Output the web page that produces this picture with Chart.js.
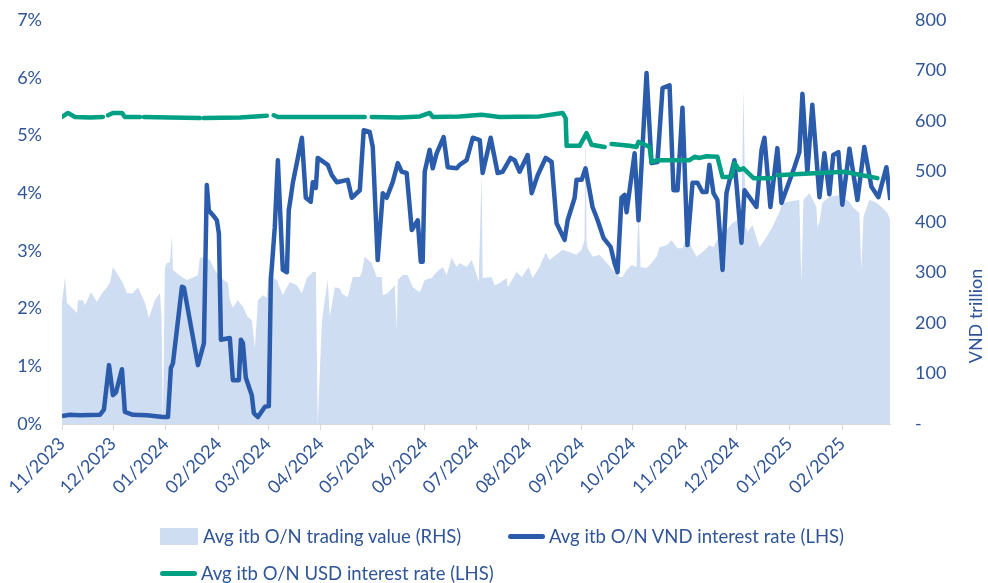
<!DOCTYPE html>
<html>
<head>
<meta charset="utf-8">
<script src="https://cdn.jsdelivr.net/npm/chart.js@4.4.1/dist/chart.umd.min.js"></script>
<style>
  body { margin:0; background:#fff; font-family:Lato, "Open Sans", sans-serif; }
  #wrap { position:relative; width:988px; height:583px; overflow:hidden; }
  #chart { position:absolute; left:0; top:0; }
  .lg { position:absolute; display:flex; align-items:center; font-size:18.5px; color:#2F5597; white-space:nowrap; }
  .lg .box { width:38px; height:17px; background:#CFDDF2; margin-right:5px; }
  .lg .ln { width:37px; height:5px; border-radius:3px; margin-right:4px; }
</style>
</head>
<body>
<div id="wrap">
  <canvas id="chart" width="988" height="583"></canvas>
  <div class="lg" style="left:160px; top:525px;"><span class="box"></span>Avg itb O/N trading value (RHS)</div>
  <div class="lg" style="left:508px; top:525px;"><span class="ln" style="background:#2B5CAB"></span>Avg itb O/N VND interest rate (LHS)</div>
  <div class="lg" style="left:160px; top:562px;"><span class="ln" style="background:#00A085"></span>Avg itb O/N USD interest rate (LHS)</div>
</div>
<script>
// x positions are days counted from 01/11/2023
const monthDays = [0,30,61,92,121,152,182,213,243,274,305,335,366,396,427,458];
const tickLabels = ['11/2023','12/2023','01/2024','02/2024','03/2024','04/2024','05/2024','06/2024',
  '07/2024','08/2024','09/2024','10/2024','11/2024','12/2024','01/2025','02/2025'];

/* ---------- Avg itb O/N trading value (VND trillion, RHS) ---------- */
const volDays = [0,1.8,2.9,5.9,8.8,9.4,12.3,13.5,17.0,20.5,23.5,26.4,28.2,29.9,32.8,35.8,38.1,41.6,44.6,48.7,
  51.0,54.5,57.5,58.4,59.2,60.4,61.6,63.3,64.5,65.1,70.4,73.3,76.8,79.8,80.9,83.9,86.8,89.7,92.7,97.4,
  98.5,100.3,103.2,106.2,109.1,111.4,113.2,115.0,117.9,120.2,121.4,123.8,126.1,129.6,133.7,137.8,140.8,143.7,147.2,149.0,
  150.1,152.5,154.2,156.0,157.2,160.1,163.0,164.2,167.7,170.7,174.8,176.0,177.7,181.8,184.7,187.7,188.3,191.2,195.3,196.5,
  197.1,200.0,202.9,205.9,210.0,212.9,217.0,219.9,223.5,225.8,228.7,231.7,233.4,237.5,240.5,243.4,244.6,246.3,246.9,252.2,
  253.9,256.9,261.0,261.6,266.9,269.8,273.9,276.2,280.3,283.9,286.2,293.8,302.0,305.0,306.7,307.3,307.9,308.5,311.4,315.5,
  319.6,323.2,327.3,329.0,331.4,334.3,337.2,338.4,339.6,343.1,346.0,349.0,350.7,354.8,357.7,361.3,364.2,367.1,369.5,372.4,
  375.4,380.0,382.4,385.9,390.0,393.5,396.5,398.8,400.0,401.2,402.4,405.3,409.4,413.5,417.0,421.1,422.9,432.8,434.0,435.2,
  438.7,442.8,443.4,444.6,446.3,450.4,456.3,462.2,463.9,468.0,469.2,470.4,473.9,478.0,481.5,484.5,486.2];
const volValue = [240,291,240,230,220,245,245,235,261,242,259,271,280,311,295,279,259,259,271,240,
  210,245,259,210,0,310,319,320,374,305,291,285,290,295,329,330,325,305,291,279,
  245,230,245,232,212,206,150,245,255,250,305,290,285,255,281,275,259,289,301,301,
  0,200,245,285,212,271,269,259,251,291,291,301,331,319,291,291,255,259,275,186,
  285,295,295,271,261,285,289,301,311,295,329,311,319,311,325,295,281,497,289,291,
  275,279,289,271,301,291,311,289,311,339,325,345,335,345,364,596,364,348,331,335,
  320,305,291,291,305,315,311,420,311,309,319,331,350,354,364,348,348,378,350,331,
  339,354,350,374,384,398,404,400,667,390,380,394,350,370,390,420,438,444,279,444,
  457,430,390,400,438,450,453,440,430,418,305,410,444,438,428,418,404];

/* ---------- Avg itb O/N VND interest rate (%, LHS) ---------- */
const vndDays = [0,4.7,10.6,22.3,24.6,27.6,29.9,31.7,35.2,36.9,41.6,49.9,59.2,62.2,63.9,65.1,70.4,71.6,79.8,83.3,
  85.0,86.2,89.1,90.9,92.1,93.3,98.5,100.3,103.8,105.0,106.2,107.9,111.4,112.6,115.0,119.1,121.4,122.6,124.9,126.7,
  129.6,132.0,133.1,134.3,135.5,140.8,143.1,146.0,147.2,149.0,150.1,156.0,158.4,161.3,167.7,170.1,174.8,177.1,180.6,182.4,
  185.3,188.3,190.6,194.1,197.1,199.4,202.3,205.3,208.8,210.6,211.7,212.9,215.8,217.6,219.9,224.0,226.4,231.7,233.4,237.5,
  241.1,245.2,246.9,251.6,255.7,258.6,263.3,265.7,268.6,273.3,275.7,279.2,283.9,287.4,290.3,295.0,296.8,300.9,302.0,305.0,
  307.3,311.4,314.4,317.9,322.0,324.3,326.1,328.4,330.2,331.4,336.1,338.4,343.1,346.0,349.5,352.5,356.6,358.9,361.3,364.2,
  367.1,370.1,373.0,375.9,378.3,380.0,382.4,384.7,387.7,390.0,394.7,398.8,400.6,407.6,410.6,412.3,415.8,419.9,422.3,429.9,
  432.8,434.6,437.5,440.4,444.6,447.5,450.4,452.7,455.7,458.0,462.2,466.9,470.9,475.1,479.2,483.9,486.2];
const vndRate = [0.14,0.16,0.15,0.16,0.25,1.02,0.50,0.55,0.95,0.21,0.16,0.15,0.12,0.12,0.97,1.05,2.38,2.36,1.02,1.40,
  4.14,3.70,3.60,3.53,3.30,1.46,1.49,0.76,0.76,1.46,1.40,0.80,0.50,0.19,0.12,0.30,0.31,2.50,3.41,4.57,
  2.67,2.63,3.70,3.93,4.18,4.96,3.92,3.85,4.19,4.09,4.61,4.49,4.31,4.19,4.23,3.92,4.05,5.09,5.06,4.80,
  2.84,4.00,3.92,4.19,4.52,4.37,4.35,3.36,3.53,2.81,2.81,4.37,4.75,4.43,4.69,4.97,4.45,4.43,4.49,4.57,
  4.96,4.92,4.35,4.96,4.35,4.37,4.61,4.57,4.37,4.66,4.00,4.31,4.61,4.54,3.48,3.19,3.53,3.92,4.23,4.23,
  4.43,3.76,3.53,3.22,3.07,2.79,2.63,3.92,3.97,3.67,4.69,3.53,6.08,4.52,4.54,5.82,5.87,4.05,4.05,5.48,
  3.10,4.18,4.18,4.02,4.02,4.49,4.00,3.88,2.67,4.00,4.57,3.14,4.05,3.76,4.75,4.96,3.76,4.78,3.83,4.45,
  4.71,5.72,4.35,5.53,3.93,4.69,3.98,4.66,4.71,3.80,4.77,3.88,4.80,4.11,3.93,4.45,3.88];

/* ---------- Avg itb O/N USD interest rate (%, LHS), null = no quote ---------- */
const usdDays = [0,3.5,7.6,16.4,24.0,25.5,27.0,29.9,35.2,36.9,45.7,46.9,48.1,63.3,80.9,82.1,83.3,104.4,120.2,122.3,
  124.3,126.7,157.2,177.7,179.8,181.8,198.2,210.0,215.8,217.6,233.4,246.3,256.9,280.3,293.8,295.6,296.2,303.8,307.9,310.8,
  318.5,320.5,322.6,333.1,337.2,338.4,344.9,346.0,349.5,368.3,371.2,374.2,378.3,384.7,387.7,393.0,394.7,397.6,400.0,405.9,
  417.0,418.5,419.9,432.8,444.6,459.2,468.0,478.6];
const usdRate = [5.32,5.39,5.32,5.31,5.32,null,5.35,5.39,5.39,5.32,5.32,null,5.32,5.31,5.30,null,5.30,5.31,5.34,null,
  5.35,5.32,5.32,5.32,null,5.32,5.31,5.33,5.39,5.32,5.33,5.36,5.32,5.33,5.39,5.30,4.82,4.82,5.04,4.84,
  4.80,null,4.85,4.82,4.80,4.89,4.80,4.54,4.57,4.57,4.63,4.61,4.64,4.63,4.28,4.28,4.52,4.40,4.43,4.26,
  4.26,null,4.31,4.33,4.35,4.37,4.32,4.26];

const txt = '#2F5597';
const font = { family:'Lato', size:18 };
const pts = (xs, ys) => xs.map((d,i) => ({x:d, y:ys[i]}));

// right axis title sits lower than centre, draw it by hand
const rhsTitle = {
  id:'rhsTitle',
  afterDraw(c){
    const ctx = c.ctx;
    ctx.save();
    ctx.translate(976, 316);
    ctx.rotate(-Math.PI/2);
    ctx.font = '18px Lato';
    ctx.fillStyle = txt;
    ctx.textAlign = 'center';
    ctx.textBaseline = 'middle';
    ctx.fillText('VND trillion', 0, 0);
    ctx.restore();
  }
};

// fixed box sizes so the plot area lands where the reference has it
function fixY(w){
  return s => { s.width = w; s.paddingTop = 0; s.paddingBottom = 0; };
}

new Chart(document.getElementById('chart'), {
  type:'line',
  data:{
    datasets:[
      { label:'Avg itb O/N trading value (RHS)', data:pts(volDays, volValue), yAxisID:'y1',
        fill:'origin', backgroundColor:'#CFDDF2', borderWidth:0, pointRadius:0, order:3 },
      { label:'Avg itb O/N VND interest rate (LHS)', data:pts(vndDays, vndRate), yAxisID:'y',
        borderColor:'#2B5CAB', borderWidth:4.5, pointRadius:0, borderJoinStyle:'round', order:2 },
      { label:'Avg itb O/N USD interest rate (LHS)', data:pts(usdDays, usdRate), yAxisID:'y',
        borderColor:'#00A085', borderWidth:4.5, pointRadius:0, borderCapStyle:'round', borderJoinStyle:'round',
        spanGaps:false, order:1 }
    ]
  },
  options:{
    responsive:false, animation:false, events:[],
    layout:{ padding:{ top:20, left:0, right:0, bottom:0 } },
    plugins:{ legend:{display:false}, tooltip:{enabled:false} },
    scales:{
      x:{
        type:'linear', min:0, max:486,
        afterBuildTicks: s => { s.ticks = monthDays.map(v => ({value:v})); },
        afterFit: s => { s.height = 159; s.paddingLeft = 0; s.paddingRight = 0; },
        ticks:{ autoSkip:false, maxRotation:45, minRotation:45, color:txt, font:{family:'Lato', size:18},
          callback:(v,i) => tickLabels[i] },
        grid:{ drawOnChartArea:false, drawTicks:true, tickLength:6, color:'#D9D9D9' },
        border:{ display:true, color:'#D9D9D9' }
      },
      y:{
        position:'left', min:0, max:7,
        afterFit: fixY(62),
        ticks:{ stepSize:1, padding:20, color:txt, font, callback:v => v + '%' },
        grid:{ display:false, drawTicks:false }, border:{ display:false }
      },
      y1:{
        position:'right', min:0, max:800,
        afterFit: fixY(98),
        ticks:{ stepSize:100, padding:25, color:txt, font, callback:v => v === 0 ? '-' : v },
        grid:{ display:false, drawTicks:false }, border:{ display:false }
      }
    }
  },
  plugins:[rhsTitle]
});
</script>
</body>
</html>
